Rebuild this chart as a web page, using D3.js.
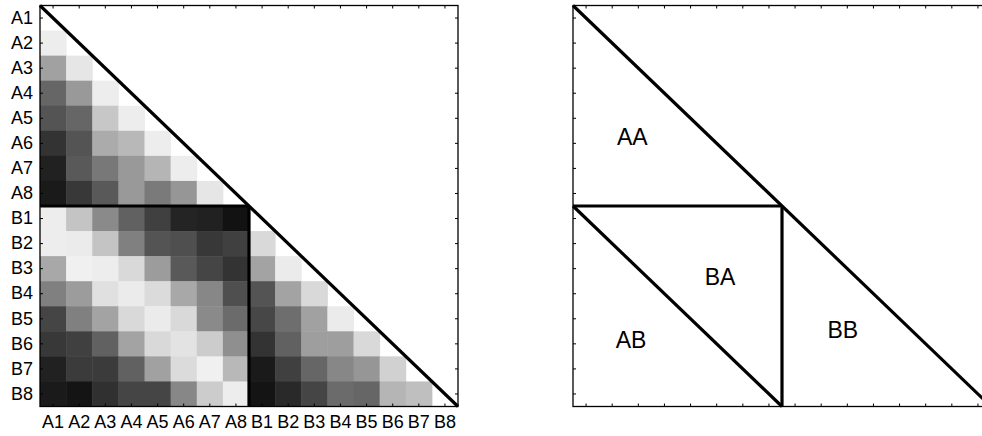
<!DOCTYPE html>
<html>
<head>
<meta charset="utf-8">
<script src="https://cdn.jsdelivr.net/npm/d3@7"></script>
<style>
  body { margin: 0; background: #fff; }
  svg { display: block; font-family: "Liberation Sans", Arial, Helvetica, sans-serif; }
</style>
</head>
<body>
<div id="container"></div>
<script>
// labels for rows / columns
const groupA = ['A1', 'A2', 'A3', 'A4', 'A5', 'A6', 'A7', 'A8'];
const groupB = ['B1', 'B2', 'B3', 'B4', 'B5', 'B6', 'B7', 'B8'];
const names = groupA.concat(groupB);

// similarity values (0 = black, 1 = white)
// AA block: rows A2..A8, columns A1..A(i-1)
const valuesAA = [
    [0.93],
    [0.63, 0.90],
    [0.40, 0.60, 0.93],
    [0.33, 0.40, 0.78, 0.93],
    [0.20, 0.33, 0.67, 0.72, 0.93],
    [0.13, 0.35, 0.47, 0.60, 0.71, 0.93],
    [0.10, 0.22, 0.35, 0.60, 0.48, 0.59, 0.90]
];
// BA block: rows B1..B8, columns A1..A8
const valuesBA = [
    [0.93, 0.77, 0.54, 0.38, 0.25, 0.14, 0.13, 0.07],
    [0.93, 0.92, 0.77, 0.50, 0.33, 0.31, 0.22, 0.25],
    [0.66, 0.94, 0.93, 0.85, 0.61, 0.35, 0.27, 0.20],
    [0.50, 0.61, 0.88, 0.92, 0.86, 0.66, 0.53, 0.31],
    [0.27, 0.50, 0.64, 0.85, 0.92, 0.85, 0.54, 0.42],
    [0.22, 0.25, 0.38, 0.64, 0.85, 0.89, 0.80, 0.56],
    [0.13, 0.23, 0.23, 0.38, 0.63, 0.86, 0.94, 0.72],
    [0.10, 0.08, 0.19, 0.27, 0.27, 0.53, 0.80, 0.93]
];
// BB block: rows B2..B8, columns B1..B(i-1)
const valuesBB = [
    [0.85],
    [0.64, 0.92],
    [0.33, 0.64, 0.85],
    [0.28, 0.43, 0.63, 0.92],
    [0.20, 0.38, 0.62, 0.62, 0.85],
    [0.10, 0.25, 0.40, 0.53, 0.59, 0.82],
    [0.08, 0.16, 0.27, 0.42, 0.40, 0.71, 0.75]
];

// schematic region labels (right panel)
const regionNames = ['AA', 'BA', 'AB', 'BB'];

// svg dimensions
const w = 982;
const h = 436;

const svg = d3.select('#container')
                .append('svg')
                .attr('width', w)
                .attr('height', h);

// panel geometry
const yTop = 5.5;
const yBottom = 406.5;
const pw = 418;
const panels = [40, 573];

// flatten blocks into cells
const cells = [];
valuesAA.forEach((row, i) => row.forEach((v, j) => cells.push({ r: groupA[i + 1], c: groupA[j], v: v })));
valuesBA.forEach((row, i) => row.forEach((v, j) => cells.push({ r: groupB[i], c: groupA[j], v: v })));
valuesBB.forEach((row, i) => row.forEach((v, j) => cells.push({ r: groupB[i + 1], c: groupB[j], v: v })));

const gray = d3.scaleLinear().domain([0, 1]).range(['#000', '#fff']);

panels.forEach((left, k) => {
    const x = d3.scaleBand().domain(names).range([left, left + pw]);
    const y = d3.scaleBand().domain(names).range([yTop, yBottom]);
    const g = svg.append('g');

    if (k === 0) {
        // heat map cells
        g.selectAll('rect.cell')
            .data(cells)
            .enter()
            .append('rect')
            .attr('class', 'cell')
            .attr('x', d => x(d.c))
            .attr('y', d => y(d.r))
            .attr('width', x.bandwidth() + 0.5)
            .attr('height', y.bandwidth() + 0.5)
            .attr('fill', d => gray(d.v));
    }

    // axes with inward ticks
    g.append('g')
        .attr('transform', `translate(0, ${yBottom})`)
        .call(d3.axisBottom(x).tickSize(-3).tickSizeOuter(0).tickPadding(9)
            .tickFormat(k === 0 ? null : ''));
    g.append('g')
        .attr('transform', `translate(0, ${yTop})`)
        .call(d3.axisTop(x).tickSize(-3).tickSizeOuter(0).tickFormat(''));
    g.append('g')
        .attr('transform', `translate(${left}, 0)`)
        .call(d3.axisLeft(y).tickSize(-3).tickSizeOuter(0).tickPadding(7)
            .tickFormat(k === 0 ? null : ''));
    g.append('g')
        .attr('transform', `translate(${left + pw}, 0)`)
        .call(d3.axisRight(y).tickSize(-3).tickSizeOuter(0).tickFormat(''));

    g.selectAll('.domain').remove();
    g.selectAll('.tick line').attr('stroke', '#000').attr('stroke-width', 1);
    g.selectAll('.tick text').attr('font-size', 18).attr('font-family', '"Liberation Sans", Arial, sans-serif').attr('fill', '#000');

    // frame
    g.append('rect')
        .attr('x', left)
        .attr('y', yTop)
        .attr('width', pw)
        .attr('height', yBottom - yTop)
        .attr('fill', 'none')
        .attr('stroke', '#000')
        .attr('stroke-width', 1.3);

    const xm = x('B1');
    const ym = y('B1');

    // thick block lines
    const thick = [
        [[left, yTop], [left + pw, yBottom]],
        [[left, ym], [xm, ym]],
        [[xm, ym], [xm, yBottom]]
    ];
    if (k === 1) thick.push([[left, ym], [xm, yBottom]]);

    g.selectAll('line.block')
        .data(thick)
        .enter()
        .append('line')
        .attr('class', 'block')
        .attr('x1', d => d[0][0])
        .attr('y1', d => d[0][1])
        .attr('x2', d => d[1][0])
        .attr('y2', d => d[1][1])
        .attr('stroke', '#000')
        .attr('stroke-width', 3.2);

    if (k === 1) {
        // label positions in cell units (column, row baseline)
        const cx = d3.scaleLinear().domain([0, 16]).range([left, left + pw]);
        const cy = d3.scaleLinear().domain([0, 16]).range([yTop, yBottom]);
        const lx = [2.27, 5.63, 2.22, 10.33];
        const ly = [5.57, 11.15, 13.67, 13.27];
        g.selectAll('text.region')
            .data(regionNames)
            .enter()
            .append('text')
            .attr('class', 'region')
            .attr('x', (d, i) => cx(lx[i]))
            .attr('y', (d, i) => cy(ly[i]))
            .attr('text-anchor', 'middle')
            .attr('font-size', 23)
            .text(d => d);
    }
});
</script>
</body>
</html>
